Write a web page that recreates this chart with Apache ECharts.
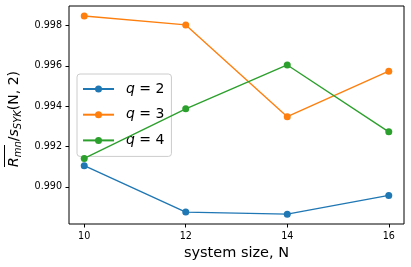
<!DOCTYPE html>
<html>
<head>
<meta charset="utf-8">
<script src="https://cdn.jsdelivr.net/npm/echarts@6/dist/echarts.min.js"></script>
<style>
html,body{margin:0;padding:0;background:#fff;}
#c{width:411px;height:267px;}
</style>
</head>
<body>
<div id="c"></div>
<script>
// ---- data ----
var sizesN = [10, 12, 14, 16];
var seriesNames = ['q = 2', 'q = 3', 'q = 4'];
var qLabels = ['2', '3', '4'];
var valsQ2 = [0.99105, 0.98874, 0.98864, 0.98957];
var valsQ3 = [0.99848, 0.99804, 0.99348, 0.99574];
var valsQ4 = [0.99141, 0.99387, 0.99605, 0.99273];
var xTicks = [10, 12, 14, 16];
var yTicks = [0.990, 0.992, 0.994, 0.996, 0.998];
var colors = ['#1f77b4', '#ff7f0e', '#2ca02c'];

var FONT = 'DejaVu Sans';
var allVals = [valsQ2, valsQ3, valsQ4];

function pairs(vals) {
  return sizesN.map(function (n, i) { return [n, vals[i]]; });
}

var series = allVals.map(function (vals, k) {
  return {
    name: seriesNames[k],
    type: 'line',
    data: pairs(vals),
    symbol: 'circle',
    symbolSize: 7,
    showSymbol: true,
    lineStyle: { color: colors[k], width: 1.4 },
    itemStyle: { color: colors[k] },
    emphasis: { disabled: true },
    animation: false,
    z: 2 + k
  };
});

var chart = echarts.init(document.getElementById('c'), null, { renderer: 'canvas' });
chart.setOption({
  animation: false,
  backgroundColor: '#fff',
  textStyle: { fontFamily: FONT },
  grid: {
    left: 69, right: 7, top: 6, bottom: 43,
    show: true, borderColor: '#000', borderWidth: 1, backgroundColor: 'transparent'
  },
  xAxis: {
    type: 'value',
    min: 9.7, max: 16.3,
    axisLine: { show: false },
    splitLine: { show: false },
    axisTick: { show: true, inside: false, length: 3.5, lineStyle: { color: '#000', width: 1 }, customValues: xTicks },
    axisLabel: { show: true, customValues: xTicks, margin: 7, color: '#000', fontSize: 9.6, fontFamily: FONT,
      formatter: function (v) { return String(v); } },
    name: 'system size, N',
    nameLocation: 'middle',
    nameGap: 21,
    nameTextStyle: { fontSize: 14.5, color: '#000', fontFamily: FONT, verticalAlign: 'top' }
  },
  yAxis: {
    type: 'value',
    min: 0.98815, max: 0.99898,
    axisLine: { show: false },
    splitLine: { show: false },
    axisTick: { show: true, inside: false, length: 3.5, lineStyle: { color: '#000', width: 1 }, customValues: yTicks },
    axisLabel: { show: true, customValues: yTicks, margin: 7, color: '#000', fontSize: 9.6, fontFamily: FONT,
      formatter: function (v) { return v.toFixed(3); } }
  },
  legend: {
    show: true,
    orient: 'vertical',
    left: 77, top: 74,
    padding: [7, 7, 8, 5],
    itemWidth: 31,
    itemHeight: 8.75,
    itemGap: 9.7,
    backgroundColor: 'rgba(255,255,255,0.8)',
    borderColor: '#cccccc',
    borderWidth: 1,
    borderRadius: 3,
    data: seriesNames,
    formatter: function (name) {
      var idx = seriesNames.indexOf(name);
      return '{i|q}{n| = ' + qLabels[idx] + '}';
    },
    textStyle: {
      fontFamily: FONT, fontSize: 14, color: '#000', lineHeight: 16,
      rich: {
        i: { fontStyle: 'italic', fontFamily: FONT, fontSize: 14, color: '#000', padding: [0, 0, 0, 7], lineHeight: 16 },
        n: { fontFamily: FONT, fontSize: 14, color: '#000', lineHeight: 16 }
      }
    }
  },
  graphic: [{
    type: 'text',
    x: 3, y: 167,
    rotation: Math.PI / 2,
    silent: true,
    style: {
      text: '{ol| }\n{R|R}{sub|mn}{n|/}{s|s}{sub|SYK}{n|(N, 2)}',
      align: 'left', verticalAlign: 'top',
      textAlign: 'left', textVerticalAlign: 'top',
      fill: '#000',
      font: '14px ' + FONT,
      rich: {
        ol: { width: 22, height: 1, lineHeight: 3, backgroundColor: '#000', fontSize: 1 },
        R: { fontFamily: FONT, fontStyle: 'italic', fontSize: 14, lineHeight: 17, fill: '#000', color: '#000' },
        s: { fontFamily: FONT, fontStyle: 'italic', fontSize: 14, lineHeight: 17, fill: '#000', color: '#000' },
        n: { fontFamily: FONT, fontSize: 14, lineHeight: 17, fill: '#000', color: '#000' },
        sub: { fontFamily: FONT, fontStyle: 'italic', fontSize: 10, lineHeight: 10, verticalAlign: 'bottom', fill: '#000', color: '#000' }
      }
    }
  }],
  series: series
});
</script>
</body>
</html>
